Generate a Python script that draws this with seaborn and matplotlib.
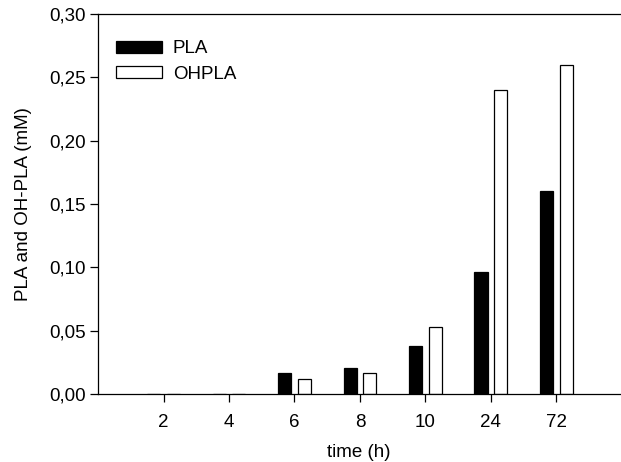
import matplotlib
matplotlib.use("Agg")
import matplotlib.pyplot as plt
from matplotlib.ticker import FuncFormatter, MultipleLocator
import seaborn as sns
import pandas as pd

# Sampling times and measured concentrations (mM)
times = ["2", "4", "6", "8", "10", "24", "72"]
pla = [0.0, 0.0, 0.017, 0.0205, 0.038, 0.0965, 0.160]
ohpla = [0.0, 0.0, 0.012, 0.0165, 0.053, 0.240, 0.260]
series_names = ["PLA", "OHPLA"]

df = pd.DataFrame({
    "time": times * 2,
    "conc": pla + ohpla,
    "compound": [series_names[0]] * len(times) + [series_names[1]] * len(times),
})

sns.set_style("ticks")
plt.rcParams["font.family"] = ["Liberation Sans", "DejaVu Sans"]
plt.rcParams["text.color"] = "black"
plt.rcParams["axes.labelcolor"] = "black"
plt.rcParams["xtick.color"] = "black"
plt.rcParams["ytick.color"] = "black"

fig = plt.figure(figsize=(6.21, 4.62), dpi=100)
ax = fig.add_axes([0.158, 0.147, 0.84, 0.823])

sns.barplot(
    data=df, x="time", y="conc", hue="compound",
    order=times, hue_order=series_names,
    palette={"PLA": "black", "OHPLA": "white"},
    edgecolor="black", linewidth=0.9,
    width=0.6, gap=0.33, ax=ax,
)

ax.set_xlim(-1, 6.97)
ax.set_ylim(0, 0.30)
ax.yaxis.set_major_locator(MultipleLocator(0.05))
ax.yaxis.set_major_formatter(FuncFormatter(lambda v, _: f"{v:.2f}".replace(".", ",")))

ax.set_xlabel("time (h)", fontsize=13.5, labelpad=10)
ax.set_ylabel("PLA and OH-PLA (mM)", fontsize=13.5, labelpad=12)
ax.tick_params(axis="both", labelsize=13.5, length=6, width=0.9, direction="out",
               color="black", labelcolor="black")
ax.tick_params(axis="x", pad=8)
ax.tick_params(axis="y", pad=3)

for side in ["left", "bottom", "top"]:
    ax.spines[side].set_visible(True)
    ax.spines[side].set_color("black")
    ax.spines[side].set_linewidth(0.9)
ax.spines["right"].set_visible(False)

handles, labels = ax.get_legend_handles_labels()
ax.legend(
    handles, labels, loc="upper left", bbox_to_anchor=(0.01, 0.965),
    frameon=False, fontsize=13.5, handlelength=2.45, handleheight=0.62,
    handletextpad=0.55, labelspacing=0.45, borderaxespad=0.3,
)

fig.savefig("out.png", dpi=100)
